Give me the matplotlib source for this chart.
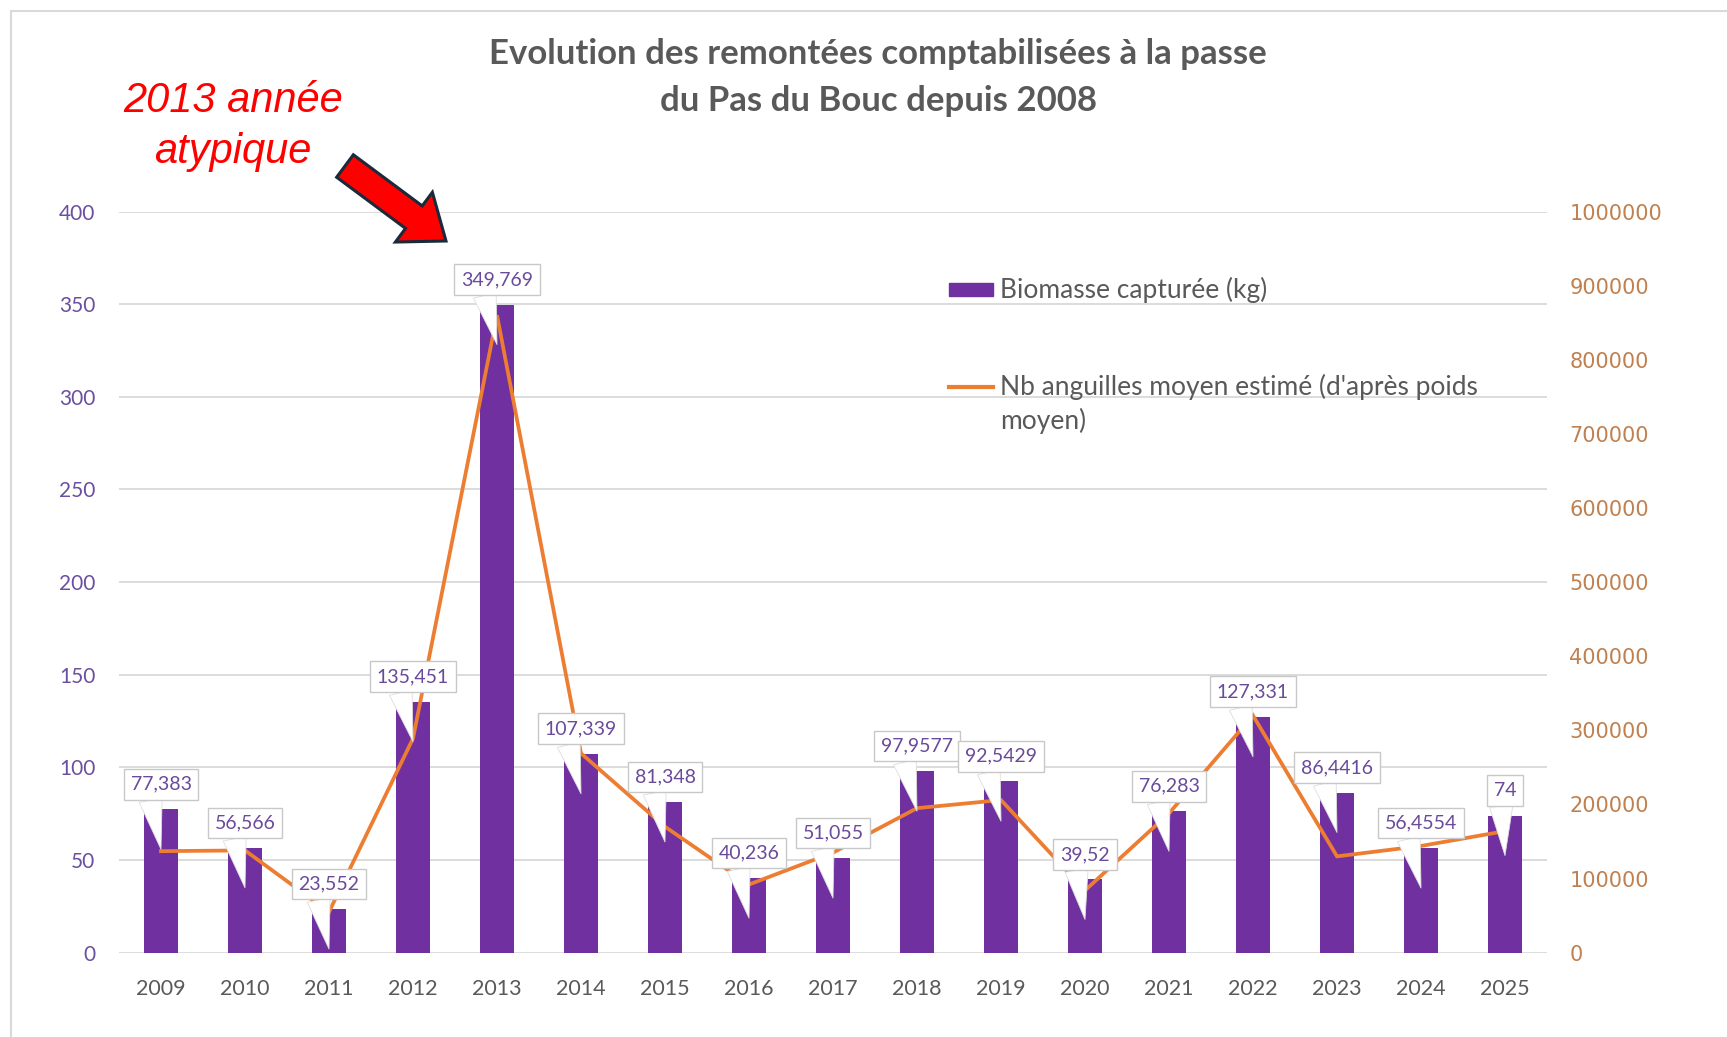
import numpy as np
import matplotlib as mpl
mpl.use('Agg')
import matplotlib.pyplot as plt
from matplotlib.transforms import offset_copy, IdentityTransform
from matplotlib.patches import FancyArrow, Rectangle
from matplotlib.lines import Line2D

years = ['2009', '2010', '2011', '2012', '2013', '2014', '2015', '2016', '2017',
         '2018', '2019', '2020', '2021', '2022', '2023', '2024', '2025']
biomasse = [77.383, 56.566, 23.552, 135.451, 349.769, 107.339, 81.348, 40.236, 51.055,
            97.9577, 92.5429, 39.52, 76.283, 127.331, 86.4416, 56.4554, 74]
nb_anguilles = [137000, 138000, 55000, 289000, 860000, 269000, 170000, 92000, 135000,
                195000, 206000, 84000, 188000, 320000, 130000, 144000, 164000]

W, H = 1727, 1037
PURPLE = '#7030A0'
ORANGE = '#ED7D31'
GREY = '#595959'

fig = plt.figure(figsize=(W / 100, H / 100), dpi=100)
fig.patch.set_facecolor('white')

# chart area border (Excel style)
fig.add_artist(Rectangle((11 / W, -0.1), 1.2, 1 - 11 / H + 0.1, transform=fig.transFigure,
                         fill=False, ec='#d9d9d9', lw=1.5))

ax = fig.add_axes([119 / W, 1 - 952.7 / H, (1547 - 119) / W, (952.7 - 211.5) / H])
x = np.arange(len(years))
ax.bar(x, biomasse, width=0.4, color=PURPLE, zorder=2)
ax.set_xlim(-0.5, len(years) - 0.5)
ax.set_ylim(0, 400)
ax.set_yticks(np.arange(0, 401, 50))
ax.grid(axis='y', color='#d9d9d9', lw=1.3)
ax.set_axisbelow(True)
for s in ax.spines.values():
    s.set_visible(False)
ax.tick_params(length=0)
ax.tick_params(axis='y', labelcolor='#6b4fa0', labelsize=15, pad=17)
ax.set_xticks(x, years)
ax.tick_params(axis='x', labelcolor=GREY, labelsize=15.5, pad=19)
for lab in ax.get_xticklabels() + ax.get_yticklabels():
    lab.set_family('Lato')

ax2 = ax.twinx()
ax2.plot(x, nb_anguilles, color=ORANGE, lw=2.7, solid_joinstyle='miter', zorder=3)
ax2.set_ylim(0, 1000000)
ax2.set_yticks(np.arange(0, 1000001, 100000))
ax2.set_yticklabels([str(int(v)) for v in np.arange(0, 1000001, 100000)])
for s in ax2.spines.values():
    s.set_visible(False)
ax2.tick_params(length=0)
ax2.tick_params(axis='y', labelcolor='#c0804f', labelsize=15, pad=16)
for lab in ax2.get_yticklabels():
    lab.set_family('DejaVu Sans')

# data labels with callout pointers
for i, v in enumerate(biomasse):
    tip = offset_copy(ax.transData, fig=fig, x=0, y=-40, units='dots')
    lbl = format(v, 'g').replace('.', ',')
    ax2.annotate(lbl, xy=(i, v), xycoords=tip, xytext=(0, 65), textcoords='offset pixels',
                 ha='center', va='center', fontsize=14, color='#6a4a9a', family='Lato',
                 bbox=dict(boxstyle='square,pad=0.35', fc='white', ec='#c8c8c8', lw=1),
                 arrowprops=dict(arrowstyle='wedge,tail_width=1.2,shrink_factor=0.5',
                                 fc='white', ec='#dddddd', lw=0.6, relpos=(0.3, 0.1),
                                 shrinkA=0, shrinkB=0),
                 zorder=5)

# title
fig.text(878 / W, 1 - 54 / H, 'Evolution des remontées comptabilisées à la passe',
         ha='center', va='center', fontsize=25, fontweight='bold', color=GREY, family='Lato')
fig.text(878 / W, 1 - 101 / H, 'du Pas du Bouc depuis 2008',
         ha='center', va='center', fontsize=25, fontweight='bold', color=GREY, family='Lato')

# legend (drawn by hand so the line handle sits on the first text line)
fig.add_artist(Rectangle((949 / W, 1 - 296 / H), 44 / W, 13 / H, transform=fig.transFigure,
                         color=PURPLE))
fig.text(1000 / W, 1 - 290 / H, 'Biomasse capturée (kg)', ha='left', va='center',
         fontsize=19, color=GREY, family='Lato')
fig.add_artist(Line2D([949 / W, 993 / W], [1 - 387 / H] * 2, transform=fig.transFigure,
                      color=ORANGE, lw=3))
fig.text(1000 / W, 1 - 387 / H, "Nb anguilles moyen estimé (d'après poids", ha='left',
         va='center', fontsize=19, color=GREY, family='Lato')
fig.text(1000 / W, 1 - 421 / H, 'moyen)', ha='left', va='center',
         fontsize=19, color=GREY, family='Lato')

# red annotation
fig.text(233 / W, 1 - 101 / H, '2013 année', ha='center', va='center', fontsize=30,
         style='italic', color='red', family='Liberation Sans')
fig.text(233 / W, 1 - 152 / H, 'atypique', ha='center', va='center', fontsize=30,
         style='italic', color='red', family='Liberation Sans')
fig.add_artist(FancyArrow(345, H - 166, 101, -75, width=28, head_width=62, head_length=40,
                          length_includes_head=True, fc='red', ec='#1a2a3a', lw=2.2,
                          transform=IdentityTransform()))

plt.savefig('out.png', dpi=100)
